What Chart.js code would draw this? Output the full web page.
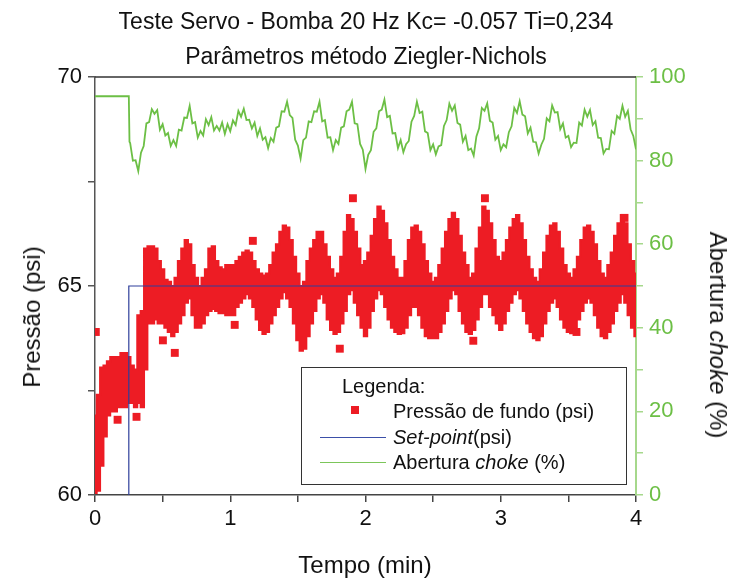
<!DOCTYPE html>
<html>
<head>
<meta charset="utf-8">
<script src="https://cdn.jsdelivr.net/npm/chart.js@4.4.1/dist/chart.umd.min.js"></script>
<style>
  body { margin:0; background:#fff; }
  #wrap { position:relative; width:732px; height:583px; font-family:'Liberation Sans', Arial, sans-serif; color:#111; }
  #wrap canvas { position:absolute; left:0; top:0; }
  .txt { position:absolute; white-space:nowrap; }
  .title { left:0; width:732px; text-align:center; font-size:23px; line-height:26px; }
  .axt { font-size:24px; transform:translate(-50%,-50%); }
  #legend { position:absolute; left:301px; top:367px; width:324px; height:116px; border:1.5px solid #333; font-size:20px; }
  #legend .row { position:absolute; left:0; height:24px; line-height:24px; }
</style>
</head>
<body>
<div id="wrap">
  <canvas id="chart" width="732" height="583"></canvas>
  <div class="txt title" style="top:8px">Teste Servo - Bomba 20 Hz Kc= -0.057 Ti=0,234</div>
  <div class="txt title" style="top:43px">Parâmetros método Ziegler-Nichols</div>
  <div class="txt axt" style="left:32px;top:317px;transform:translate(-50%,-50%) rotate(-90deg)">Pressão (psi)</div>
  <div class="txt axt" style="left:365px;top:565px">Tempo (min)</div>
  <div class="txt axt" style="left:718px;top:335px;transform:translate(-50%,-50%) rotate(90deg)">Abertura <i>choke</i> (%)</div>
  <div id="legend">
    <div class="row" style="left:40px;top:6px">Legenda:</div>
    <div style="position:absolute;left:49px;top:38px;width:8px;height:8px;background:#ED1C24"></div>
    <div class="row" style="left:91px;top:31px">Pressão de fundo (psi)</div>
    <div style="position:absolute;left:18px;top:69px;width:66px;height:1px;background:#3B4FA8"></div>
    <div class="row" style="left:91px;top:57px"><i>Set-point</i>(psi)</div>
    <div style="position:absolute;left:18px;top:94px;width:66px;height:1px;background:#7CC65A"></div>
    <div class="row" style="left:91px;top:82px">Abertura <i>choke</i> (%)</div>
  </div>
</div>
<script>
// pressure band (psi): time (min), lower and upper edge of the noisy scatter
const pTime = [0,0.025,0.05,0.075,0.1,0.125,0.15,0.175,0.2,0.225,0.25,0.275,0.3,0.325,0.35,0.375,0.4,0.425,0.45,0.475,
  0.5,0.525,0.55,0.575,0.6,0.625,0.65,0.675,0.7,0.725,0.75,0.775,0.8,0.825,0.85,0.875,0.9,0.925,0.95,0.975,
  1,1.025,1.05,1.075,1.1,1.125,1.15,1.175,1.2,1.225,1.25,1.275,1.3,1.325,1.35,1.375,1.4,1.425,1.45,1.475,
  1.5,1.525,1.55,1.575,1.6,1.625,1.65,1.675,1.7,1.725,1.75,1.775,1.8,1.825,1.85,1.875,1.9,1.925,1.95,1.975,
  2,2.025,2.05,2.075,2.1,2.125,2.15,2.175,2.2,2.225,2.25,2.275,2.3,2.325,2.35,2.375,2.4,2.425,2.45,2.475,
  2.5,2.525,2.55,2.575,2.6,2.625,2.65,2.675,2.7,2.725,2.75,2.775,2.8,2.825,2.85,2.875,2.9,2.925,2.95,2.975,
  3,3.025,3.05,3.075,3.1,3.125,3.15,3.175,3.2,3.225,3.25,3.275,3.3,3.325,3.35,3.375,3.4,3.425,3.45,3.475,
  3.5,3.525,3.55,3.575,3.6,3.625,3.65,3.675,3.7,3.725,3.75,3.775,3.8,3.825,3.85,3.875,3.9,3.925,3.95,3.975,4];
const pLow = [60.05,60.1,60.7,61.4,61.9,62.0,62.0,62.1,62.1,62.1,62.2,62.2,62.1,62.2,62.1,63.0,64.1,64.1,64.2,64.1,
  64.1,64.0,63.9,63.8,63.9,64.1,64.3,64.6,64.7,64.3,64.0,64.0,64.1,64.3,64.4,64.45,64.4,64.35,64.35,64.3,
  64.3,64.3,64.5,64.6,64.7,64.8,64.7,64.5,64.2,63.95,63.85,63.9,64.1,64.3,64.5,64.7,64.85,64.7,64.5,64.1,
  63.7,63.45,63.5,63.8,64.1,64.4,64.7,64.8,64.6,64.2,63.95,63.85,63.9,64.1,64.4,64.8,64.9,64.6,64.3,64.0,
  63.8,64.0,64.4,64.7,64.9,64.8,64.5,64.2,64.0,63.9,63.85,63.87,64.0,64.3,64.5,64.5,64.3,64.0,63.8,63.75,
  63.75,63.75,63.9,64.1,64.4,64.7,64.9,64.8,64.4,64.1,63.9,63.85,63.95,64.2,64.5,64.8,64.8,64.5,64.3,64.1,
  63.95,64.1,64.4,64.6,64.8,64.9,64.7,64.4,64.1,63.9,63.75,63.7,63.8,64.1,64.4,64.6,64.7,64.5,64.2,64.0,
  63.9,63.87,64.0,64.2,64.4,64.6,64.7,64.6,64.3,64.0,63.8,63.75,63.9,64.1,64.4,64.6,64.8,64.6,64.3,64.0,63.8];
const pHigh = [61.9,62.4,63.05,63.1,63.2,63.3,63.3,63.3,63.4,63.4,63.3,63.1,63.0,64.3,64.4,65.9,65.95,65.95,65.9,65.6,
  65.4,65.15,65.1,65.0,65.2,65.6,65.9,66.1,66.0,65.5,65.2,65.0,65.2,65.4,65.9,65.95,65.6,65.45,65.4,65.5,
  65.5,65.5,65.6,65.7,65.8,65.85,65.8,65.6,65.4,65.3,65.25,65.3,65.5,65.8,66.0,66.3,66.45,66.4,66.1,65.7,
  65.3,65.0,65.1,65.6,65.9,66.1,66.3,66.3,66.0,65.7,65.4,65.2,65.3,65.7,66.3,66.7,66.6,66.3,65.9,65.5,
  65.6,65.8,66.2,66.6,66.9,66.8,66.5,66.1,65.7,65.4,65.2,65.2,65.6,66.1,66.4,66.45,66.3,66.0,65.6,65.3,
  65.1,65.2,65.5,65.9,66.3,66.6,66.75,66.6,66.2,65.8,65.5,65.2,65.3,65.9,66.4,66.9,66.8,66.5,66.1,65.7,
  65.6,65.8,66.1,66.4,66.6,66.7,66.5,66.1,65.7,65.4,65.2,65.1,65.4,65.8,66.2,66.45,66.5,66.3,65.9,65.5,
  65.3,65.2,65.4,65.7,66.1,66.4,66.45,66.3,66.0,65.6,65.3,65.2,65.5,65.8,66.2,66.5,66.7,66.5,66.0,65.6,65.3];
// isolated pressure points
const outTime = [0.006,0.167,0.307,0.502,0.59,1.033,1.167,1.81,1.907,2.797,2.883,3.56,3.915];
const outVal  = [63.9,61.8,61.87,63.7,63.4,64.07,66.08,63.5,67.1,63.69,67.1,63.9,66.63];

// set-point (psi)
const spTime = [0.25,0.25,4];
const spVal  = [60,65,65];

// choke opening (%)
const cTime = [0,0.25,0.255,0.26,0.28,0.3,0.32,0.34,0.36,0.38,0.4,0.42,0.44,0.46,0.48,0.5,0.52,0.54,0.56,0.58,
  0.6,0.62,0.64,0.66,0.68,0.7,0.72,0.74,0.76,0.78,0.8,0.82,0.84,0.86,0.88,0.9,0.92,0.94,0.96,0.98,
  1,1.02,1.04,1.06,1.08,1.1,1.12,1.14,1.16,1.18,1.2,1.22,1.24,1.26,1.28,1.3,1.32,1.34,1.36,1.38,
  1.4,1.42,1.44,1.46,1.48,1.5,1.52,1.54,1.56,1.58,1.6,1.62,1.64,1.66,1.68,1.7,1.72,1.74,1.76,1.78,
  1.8,1.82,1.84,1.86,1.88,1.9,1.92,1.94,1.96,1.98,2,2.02,2.04,2.06,2.08,2.1,2.12,2.14,2.16,2.18,
  2.2,2.22,2.24,2.26,2.28,2.3,2.32,2.34,2.36,2.38,2.4,2.42,2.44,2.46,2.48,2.5,2.52,2.54,2.56,2.58,
  2.6,2.62,2.64,2.66,2.68,2.7,2.72,2.74,2.76,2.78,2.8,2.82,2.84,2.86,2.88,2.9,2.92,2.94,2.96,2.98,
  3,3.02,3.04,3.06,3.08,3.1,3.12,3.14,3.16,3.18,3.2,3.22,3.24,3.26,3.28,3.3,3.32,3.34,3.36,3.38,
  3.4,3.42,3.44,3.46,3.48,3.5,3.52,3.54,3.56,3.58,3.6,3.62,3.64,3.66,3.68,3.7,3.72,3.74,3.76,3.78,
  3.8,3.82,3.84,3.86,3.88,3.9,3.92,3.94,3.96,3.98,4];
const cOpen = [95.4,95.4,84.5,84.2,80.0,80.1,77.5,81.9,83.5,88.9,89.2,92.3,91.2,92.1,87.4,88.7,86.0,86.6,83.5,84.9,
  83.5,87.4,87.2,90.3,90.2,93.1,88.9,89.2,85.5,87.1,86.0,89.9,88.5,90.4,87.2,88.3,87.2,89.1,86.4,88.7,
  87.0,89.6,88.5,91.9,90.5,92.4,89.7,89.8,87.7,89.1,85.9,87.7,85.0,85.6,83.0,85.4,84.5,87.9,88.2,91.8,
  91.7,94.1,90.9,90.2,85.0,83.6,80.5,84.9,85.5,89.4,89.2,91.8,91.7,94.1,89.4,89.7,85.5,85.6,82.5,84.9,
  84.0,87.9,88.2,91.8,92.2,94.1,88.9,88.7,84.0,82.6,78.0,81.4,82.5,86.9,87.7,91.8,92.2,94.6,90.4,90.7,
  86.5,86.6,83.0,84.9,82.0,83.9,84.7,89.3,90.7,94.1,91.4,91.7,87.0,86.6,82.5,83.9,81.5,83.4,83.7,88.3,
  89.7,93.6,91.9,93.2,89.0,88.6,84.5,85.9,82.5,82.9,81.2,85.8,87.7,92.6,91.9,93.7,89.5,89.1,85.0,85.9,
  82.5,83.9,83.2,86.8,88.2,92.6,91.4,94.2,91.0,90.6,86.5,87.9,84.5,84.4,81.7,83.8,85.2,90.1,89.4,93.2,
  91.5,91.6,87.5,88.9,85.5,85.9,83.2,84.3,84.2,89.1,88.4,92.2,90.5,92.1,88.5,89.4,85.5,85.4,81.7,82.8,
  82.7,87.1,86.4,90.7,90.0,93.1,90.5,91.9,87.5,85.9,82.7];

const RED = '#ED1C24', BLUE = '#2E3F9B', GREEN = '#6CBF45', GREEN_AX = '#A6D88C';
const tickFont = { family:"'Liberation Sans', Arial, sans-serif", size:22 };
const pts = (xs, ys) => xs.map((t,i) => ({ x:t, y:ys[i] }));

const topBorder = {
  id:'topBorder',
  afterDraw(chart) {
    const { ctx, chartArea:a } = chart;
    ctx.save();
    ctx.strokeStyle = '#333'; ctx.lineWidth = 1.5;
    ctx.beginPath(); ctx.moveTo(a.left, a.top); ctx.lineTo(a.right, a.top); ctx.stroke();
    ctx.restore();
  }
};

new Chart(document.getElementById('chart'), {
  type:'scatter',
  data:{ datasets:[
    { type:'line', label:'Set-point(psi)', data:pts(spTime, spVal),
      borderColor:BLUE, borderWidth:1.2, pointRadius:0, yAxisID:'y' },
    { type:'scatter', label:'Pressão de fundo (psi)', data:pts(outTime, outVal),
      pointStyle:'rect', pointRadius:5.6, backgroundColor:RED, borderWidth:0, yAxisID:'y' },
    // upper edge of the pressure scatter, filled down to the lower edge
    { type:'line', label:'Pressão de fundo (psi)', data:pts(pTime, pHigh), stepped:'middle',
      borderColor:RED, borderWidth:2, backgroundColor:RED, fill:'+1', pointRadius:0, yAxisID:'y' },
    { type:'line', label:'pLow', data:pts(pTime, pLow), stepped:'middle',
      borderColor:RED, borderWidth:2, pointRadius:0, fill:false, yAxisID:'y' },
    { type:'line', label:'Abertura choke (%)', data:pts(cTime, cOpen),
      borderColor:GREEN, borderWidth:1.8, pointRadius:0, yAxisID:'y2' }
  ]},
  options:{
    responsive:false, devicePixelRatio:1, animation:false,
    layout:{ padding:{ top:77, left:0, right:0, bottom:0 } },
    plugins:{ legend:{ display:false }, title:{ display:false }, tooltip:{ enabled:false } },
    scales:{
      x:{ type:'linear', min:0, max:4, offset:false,
        ticks:{ stepSize:0.5, autoSkip:false, maxRotation:0, padding:4, color:'#111', font:tickFont,
          callback:v => Number.isInteger(v) ? v : '' },
        grid:{ drawOnChartArea:false, drawTicks:true, tickLength:7, color:'#444', lineWidth:1.5 },
        border:{ display:true, color:'#444', width:1.5 },
        afterFit:s => { s.height = 88; } },
      y:{ position:'left', min:60, max:70,
        ticks:{ stepSize:2.5, autoSkip:false, padding:6, color:'#111', font:tickFont,
          callback:v => v % 5 === 0 ? v : '' },
        grid:{ drawOnChartArea:false, drawTicks:true, tickLength:7, color:'#555', lineWidth:1.5 },
        border:{ display:true, color:'#555', width:1.5 },
        afterFit:s => { s.width = 95; } },
      y2:{ position:'right', min:0, max:100,
        ticks:{ stepSize:10, autoSkip:false, padding:6, color:GREEN, font:tickFont,
          callback:v => v % 20 === 0 ? v : '' },
        grid:{ drawOnChartArea:false, drawTicks:true, tickLength:7, color:GREEN_AX, lineWidth:1.5 },
        border:{ display:true, color:GREEN_AX, width:2 },
        afterFit:s => { s.width = 96; } }
    }
  },
  plugins:[topBorder]
});
</script>
</body>
</html>
